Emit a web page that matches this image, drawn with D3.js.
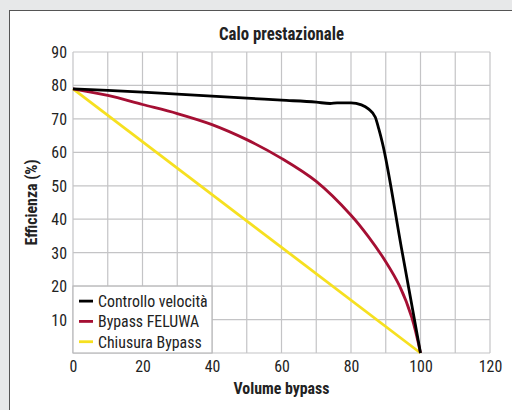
<!DOCTYPE html>
<html>
<head>
<meta charset="utf-8">
<script src="https://cdn.jsdelivr.net/npm/d3@7"></script>
<style>
  body { margin: 0; background: #e7e8e9; }
  svg { display: block; }
  text { font-family: "Roboto Condensed", "Liberation Sans Narrow", Roboto, sans-serif; fill: #222; }
</style>
</head>
<body>
<div id="chart"></div>
<script>
// Data
const xTicks = [0, 20, 40, 60, 80, 100, 120];
const yTicks = [10, 20, 30, 40, 50, 60, 70, 80, 90];

const seriesNames = ["Controllo velocità", "Bypass FELUWA", "Chiusura Bypass"];
const seriesColors = ["#000000", "#a50f33", "#f6e020"];

const controlloX = [0, 10, 20, 30, 40, 50, 60, 70, 74, 76, 80, 83, 85, 87, 88, 89, 94.5, 100];
const controlloY = [79, 78.5, 78, 77.4, 76.8, 76.2, 75.6, 75, 74.6, 74.8, 74.8, 74.2, 73, 70.5, 67, 63, 31.5, 0];

const feluwaX = [0, 10, 20, 30, 40, 50, 60, 70, 80, 85, 90, 94, 97.5, 100];
const feluwaY = [79, 77, 74.3, 71.6, 68.3, 63.8, 58.2, 51.3, 41.2, 34.8, 27.3, 20, 10.6, 0];

const chiusuraX = [0, 100];
const chiusuraY = [79, 0];

const width = 512;
const height = 410;
const margin = { left: 73, right: 22, top: 52, bottom: 57 };

const svg = d3.select("#chart")
    .append("svg")
    .attr("width", width)
    .attr("height", height);

// White panel with dark border
svg.append("rect")
    .attr("x", 9.5)
    .attr("y", 10.5)
    .attr("width", width + 20)
    .attr("height", height + 20)
    .attr("fill", "#fff")
    .attr("stroke", "#555")
    .attr("stroke-width", 1);

const x = d3.scaleLinear().domain([0, 120]).range([margin.left, width - margin.right]);
const y = d3.scaleLinear().domain([0, 90]).range([height - margin.bottom, margin.top]);

// Grid every 10 units
const grid = svg.append("g").attr("stroke", "#c4c4c6").attr("stroke-width", 1.2);
grid.selectAll(".vx")
    .data(d3.range(0, 121, 10))
    .enter()
    .append("line")
    .attr("x1", d => x(d)).attr("x2", d => x(d))
    .attr("y1", y(0)).attr("y2", y(90));
grid.selectAll(".hy")
    .data(d3.range(0, 91, 10))
    .enter()
    .append("line")
    .attr("x1", x(0)).attr("x2", x(120))
    .attr("y1", d => y(d)).attr("y2", d => y(d));

// Axes (labels only, grid draws the lines)
const xAxis = svg.append("g")
    .attr("transform", `translate(0,${y(0)})`)
    .call(d3.axisBottom(x).tickValues(xTicks).tickSize(0).tickPadding(7));
const yAxis = svg.append("g")
    .attr("transform", `translate(${x(0)},0)`)
    .call(d3.axisLeft(y).tickValues(yTicks).tickSize(0).tickPadding(6));
[xAxis, yAxis].forEach(a => {
    a.select(".domain").remove();
    a.attr("font-family", null);
    a.selectAll("text")
        .style("font-size", "17px")
        .attr("fill", "#222");
});

// Lines
const smooth = d3.line()
    .x(d => x(d[0]))
    .y(d => y(d[1]))
    .curve(d3.curveCatmullRom.alpha(0.5));
const mono = d3.line()
    .x(d => x(d[0]))
    .y(d => y(d[1]))
    .curve(d3.curveMonotoneX);

svg.append("path")
    .attr("d", smooth(d3.zip(chiusuraX, chiusuraY)))
    .attr("fill", "none")
    .attr("stroke", seriesColors[2])
    .attr("stroke-width", 2.8);
svg.append("path")
    .attr("d", smooth(d3.zip(feluwaX, feluwaY)))
    .attr("fill", "none")
    .attr("stroke", seriesColors[1])
    .attr("stroke-width", 2.8);
svg.append("path")
    .attr("d", mono(d3.zip(controlloX, controlloY)))
    .attr("fill", "none")
    .attr("stroke", seriesColors[0])
    .attr("stroke-width", 2.8)
    .attr("stroke-linejoin", "round");

// Legend box at bottom-left of the plot
const legend = svg.append("g");
legend.append("rect")
    .attr("x", x(0))
    .attr("y", y(20))
    .attr("width", x(40) - x(0))
    .attr("height", y(0) - y(20))
    .attr("fill", "#fff")
    .attr("stroke", "#b8b8ba")
    .attr("stroke-width", 1.2);

const rows = legend.selectAll(".row")
    .data(seriesNames)
    .enter()
    .append("g")
    .attr("transform", (d, i) => `translate(${x(0) + 6},${y(20) + 15 + i * 20.3})`);
rows.append("line")
    .attr("x1", 0).attr("x2", 14)
    .attr("stroke", (d, i) => seriesColors[i])
    .attr("stroke-width", 2.8);
rows.append("text")
    .attr("x", 19)
    .attr("dy", "0.35em")
    .style("font-size", "17px")
    .text(d => d);

// Titles
const title = svg.append("text")
    .attr("x", (x(0) + x(120)) / 2)
    .attr("y", 40)
    .attr("text-anchor", "middle")
    .style("font-size", "18px")
    .style("font-weight", "bold")
    .text("Calo prestazionale");

svg.append("text")
    .attr("x", (x(0) + x(120)) / 2)
    .attr("y", 394)
    .attr("text-anchor", "middle")
    .style("font-size", "17px")
    .style("font-weight", "bold")
    .text("Volume bypass");

svg.append("text")
    .attr("class", "ylab")
    .attr("transform", `translate(37,${(y(0) + y(90)) / 2}) rotate(-90)`)
    .attr("text-anchor", "middle")
    .style("font-size", "17px")
    .style("font-weight", "bold")
    .text("Efficienza (%)");

// The reference uses a condensed face; squeeze text horizontally if the
// installed font is wider (title is about 125px wide in the reference)
const r = Math.min(1, 125 / title.node().getComputedTextLength());
svg.selectAll("text").each(function () {
    const t = d3.select(this);
    if (t.classed("ylab")) {
        t.attr("transform", t.attr("transform") + ` scale(${r},1)`);
        return;
    }
    const tx = +t.attr("x") || 0;
    const ty = +t.attr("y") || 0;
    t.attr("transform", `translate(${tx},${ty}) scale(${r},1) translate(${-tx},${-ty})`);
});
</script>
</body>
</html>
